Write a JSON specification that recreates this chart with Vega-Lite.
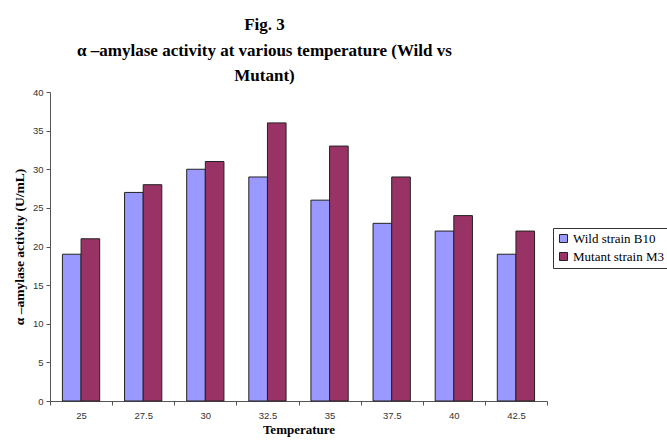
{
  "$schema": "https://vega.github.io/schema/vega-lite/v6.json",
  "autosize": "none",
  "width": 497,
  "height": 309,
  "padding": {"left": 50, "top": 92, "right": 120, "bottom": 40},
  "background": "white",
  "title": {
    "text": ["Fig. 3", "α –amylase activity at various temperature (Wild vs", "Mutant)"],
    "font": "Liberation Serif",
    "fontSize": 17,
    "fontWeight": "bold",
    "lineHeight": 25.5,
    "color": "#000",
    "anchor": "middle",
    "dx": -34,
    "offset": 2
  },
  "data": {
    "values": [
      {"temp": "25", "strain": "Wild strain B10", "activity": 19},
      {"temp": "25", "strain": "Mutant strain M3", "activity": 21},
      {"temp": "27.5", "strain": "Wild strain B10", "activity": 27},
      {"temp": "27.5", "strain": "Mutant strain M3", "activity": 28},
      {"temp": "30", "strain": "Wild strain B10", "activity": 30},
      {"temp": "30", "strain": "Mutant strain M3", "activity": 31},
      {"temp": "32.5", "strain": "Wild strain B10", "activity": 29},
      {"temp": "32.5", "strain": "Mutant strain M3", "activity": 36},
      {"temp": "35", "strain": "Wild strain B10", "activity": 26},
      {"temp": "35", "strain": "Mutant strain M3", "activity": 33},
      {"temp": "37.5", "strain": "Wild strain B10", "activity": 23},
      {"temp": "37.5", "strain": "Mutant strain M3", "activity": 29},
      {"temp": "40", "strain": "Wild strain B10", "activity": 22},
      {"temp": "40", "strain": "Mutant strain M3", "activity": 24},
      {"temp": "42.5", "strain": "Wild strain B10", "activity": 19},
      {"temp": "42.5", "strain": "Mutant strain M3", "activity": 22}
    ]
  },
  "mark": {"type": "bar", "stroke": "#222", "strokeWidth": 1},
  "encoding": {
    "x": {
      "field": "temp",
      "type": "nominal",
      "sort": null,
      "scale": {"paddingInner": 0, "paddingOuter": 0},
      "axis": {
        "title": "Temperature",
        "titleFont": "Liberation Serif",
        "titleFontSize": 13,
        "titleFontWeight": "bold",
        "titleColor": "#000",
        "titlePadding": 4,
        "labelAngle": 0,
        "labelFont": "Liberation Sans",
        "labelFontSize": 9.5,
        "labelColor": "#333",
        "labelPadding": 5,
        "tickBand": "extent",
        "tickSize": 4,
        "tickColor": "#555",
        "domainColor": "#555",
        "grid": false
      }
    },
    "xOffset": {
      "field": "strain",
      "type": "nominal",
      "sort": ["Wild strain B10", "Mutant strain M3"],
      "scale": {"paddingInner": 0, "paddingOuter": 0.667}
    },
    "y": {
      "field": "activity",
      "type": "quantitative",
      "scale": {"domain": [0, 40]},
      "axis": {
        "title": "α –amylase activity (U/mL)",
        "titleFont": "Liberation Serif",
        "titleFontSize": 13.5,
        "titleFontWeight": "bold",
        "titleColor": "#000",
        "titlePadding": 6,
        "values": [0, 5, 10, 15, 20, 25, 30, 35, 40],
        "labelFont": "Liberation Sans",
        "labelFontSize": 9.5,
        "labelColor": "#333",
        "labelPadding": 3,
        "tickSize": 4,
        "tickColor": "#555",
        "domainColor": "#555",
        "grid": false
      }
    },
    "color": {
      "field": "strain",
      "type": "nominal",
      "sort": ["Wild strain B10", "Mutant strain M3"],
      "scale": {"domain": ["Wild strain B10", "Mutant strain M3"], "range": ["#9999FF", "#993366"]},
      "legend": {
        "title": null,
        "orient": "none",
        "legendX": 503,
        "legendY": 136,
        "strokeColor": "#333",
        "padding": 4,
        "symbolType": "square",
        "symbolSize": 64,
        "symbolStrokeColor": "#222",
        "symbolStrokeWidth": 1,
        "labelFont": "Liberation Serif",
        "labelFontSize": 13,
        "labelColor": "#000",
        "labelOffset": 3,
        "rowPadding": 4,
        "fillColor": "white"
      }
    }
  },
  "config": {"view": {"stroke": null}}
}
